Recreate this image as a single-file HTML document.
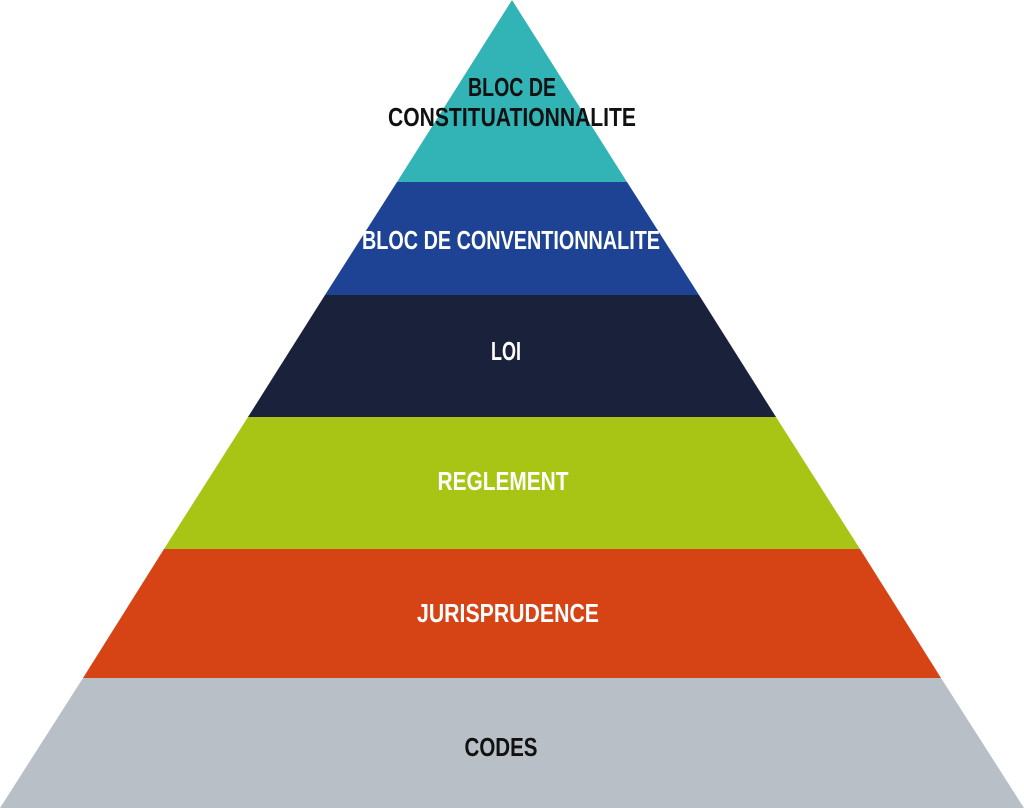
<!DOCTYPE html>
<html><head><meta charset="utf-8"><style>
html,body{margin:0;padding:0;background:#fff;}
svg{display:block;}
text{font-family:"Liberation Sans Narrow","Liberation Sans",sans-serif;font-weight:bold;font-size:26px;text-anchor:middle;}
</style></head><body>
<svg width="1024" height="808" viewBox="0 0 1024 808" xmlns="http://www.w3.org/2000/svg">
<polygon points="512,0 627,182 397,182" fill="#32b3b6"/>
<polygon points="397,182 627,182 699,295 325,295" fill="#1e4395"/>
<polygon points="325,295 699,295 776,417 248,417" fill="#1a223b"/>
<polygon points="248,417 776,417 860,549 164,549" fill="#a8c516"/>
<polygon points="164,549 860,549 941,678 83,678" fill="#d64415"/>
<polygon points="83,678 941,678 1024,808 0,808" fill="#b8bfc6"/>
<text x="512" y="96" fill="#111" textLength="88" lengthAdjust="spacingAndGlyphs">BLOC DE</text>
<text x="512" y="126" fill="#111" textLength="248" lengthAdjust="spacingAndGlyphs">CONSTITUATIONNALITE</text>
<text x="511" y="249" fill="#fff" textLength="298" lengthAdjust="spacingAndGlyphs">BLOC DE CONVENTIONNALITE</text>
<text x="506" y="360" fill="#fff" textLength="30" lengthAdjust="spacingAndGlyphs">LOI</text>
<text x="503" y="490" fill="#fff" textLength="131" lengthAdjust="spacingAndGlyphs">REGLEMENT</text>
<text x="508" y="622" fill="#fff" textLength="182" lengthAdjust="spacingAndGlyphs">JURISPRUDENCE</text>
<text x="501" y="756" fill="#111" textLength="73" lengthAdjust="spacingAndGlyphs">CODES</text>
</svg>
</body></html>
